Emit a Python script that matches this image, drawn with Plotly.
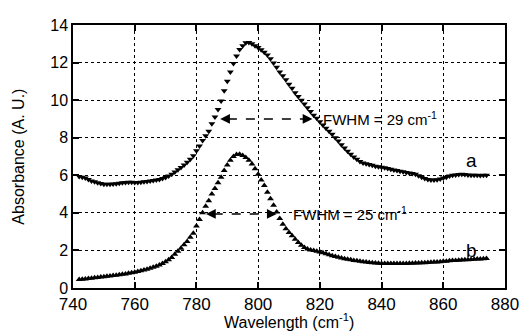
import plotly.graph_objects as go

wavelength = list(range(742, 875))

absorb_a = [
    5.93, 5.9, 5.85, 5.78, 5.7, 5.65, 5.6, 5.56, 5.52, 5.52,   # 742-751
    5.52, 5.53, 5.55, 5.58, 5.6, 5.62, 5.63, 5.63, 5.62, 5.62, # 752-761
    5.63, 5.65, 5.67, 5.7, 5.72, 5.75, 5.78, 5.83, 5.88, 5.96, # 762-771
    6.05, 6.17, 6.3, 6.42, 6.55, 6.7, 6.85, 7.04, 7.3, 7.56,   # 772-781
    7.85, 8.1, 8.35, 8.75, 9.1, 9.5, 9.95, 10.5, 11.0, 11.5,   # 782-791
    11.95, 12.35, 12.7, 12.9, 13.05, 13.07, 13.0, 12.9, 12.8, 12.68, # 792-801
    12.55, 12.4, 12.2, 11.98, 11.75, 11.5, 11.3, 11.08, 10.85, 10.63, # 802-811
    10.4, 10.2, 10.0, 9.8, 9.6, 9.4, 9.2, 9.03, 8.85, 8.68,    # 812-821
    8.5, 8.35, 8.18, 8.0, 7.82, 7.62, 7.45, 7.28, 7.12, 6.98,  # 822-831
    6.85, 6.73, 6.66, 6.62, 6.58, 6.53, 6.48, 6.45, 6.43, 6.4, # 832-841
    6.36, 6.32, 6.28, 6.25, 6.22, 6.19, 6.15, 6.12, 6.1, 6.05, # 842-851
    5.98, 5.9, 5.83, 5.78, 5.75, 5.75, 5.76, 5.8, 5.85, 5.9,   # 852-861
    5.96, 6.0, 6.02, 6.04, 6.05, 6.04, 6.02, 6.0, 6.0, 6.0,    # 862-871
    5.99, 6.0, 6.0,                                            # 872-874
]

absorb_b = [
    0.45, 0.46, 0.48, 0.5, 0.52, 0.54, 0.56, 0.58, 0.6, 0.62,  # 742-751
    0.64, 0.66, 0.68, 0.7, 0.73, 0.75, 0.78, 0.81, 0.84, 0.88, # 752-761
    0.92, 0.96, 1.0, 1.05, 1.1, 1.16, 1.22, 1.3, 1.4, 1.5,     # 762-771
    1.63, 1.79, 1.95, 2.12, 2.3, 2.48, 2.7, 2.92, 3.3, 3.65,   # 772-781
    4.0, 4.35, 4.65, 5.0, 5.3, 5.6, 5.9, 6.25, 6.55, 6.8,      # 782-791
    7.0, 7.1, 7.12, 7.05, 6.95, 6.8, 6.6, 6.35, 6.05, 5.75,    # 792-801
    5.45, 5.1, 4.75, 4.4, 4.05, 3.7, 3.4, 3.15, 2.95, 2.78,    # 802-811
    2.6, 2.42, 2.27, 2.15, 2.07, 2.02, 1.99, 1.96, 1.92, 1.87, # 812-821
    1.82, 1.77, 1.72, 1.68, 1.64, 1.6, 1.56, 1.53, 1.5, 1.47,  # 822-831
    1.45, 1.42, 1.4, 1.38, 1.36, 1.34, 1.33, 1.32, 1.31, 1.3,  # 832-841
    1.3, 1.3, 1.3, 1.3, 1.3, 1.31, 1.31, 1.32, 1.32, 1.33,     # 842-851
    1.33, 1.34, 1.35, 1.36, 1.37, 1.38, 1.39, 1.4, 1.42, 1.43, # 852-861
    1.45, 1.46, 1.47, 1.48, 1.49, 1.5, 1.51, 1.52, 1.53, 1.54, # 862-871
    1.55, 1.56, 1.57,                                          # 872-874
]

x_ticks = [740, 760, 780, 800, 820, 840, 860, 880]
y_ticks = [0, 2, 4, 6, 8, 10, 12, 14]

fwhm_a = dict(x0=787.7, x1=817.6, y=9.0, text="FWHM = 29 cm<sup>-1</sup>", tx=820.3)
fwhm_b = dict(x0=783.1, x1=806.0, y=3.94, text="FWHM = 25 cm<sup>-1</sup>", tx=810.7)

FONT = "Liberation Sans, Arial, Helvetica, sans-serif"

fig = go.Figure()
fig.add_trace(go.Scatter(x=wavelength, y=absorb_a, mode="markers",
                         marker=dict(symbol="triangle-down", size=6, color="black"),
                         showlegend=False))
fig.add_trace(go.Scatter(x=wavelength, y=absorb_b, mode="markers",
                         marker=dict(symbol="triangle-up", size=6, color="black"),
                         showlegend=False))

for f in (fwhm_a, fwhm_b):
    fig.add_shape(type="line", x0=f["x0"] + 2.5, x1=f["x1"] - 2.5, y0=f["y"], y1=f["y"],
                  xref="x", yref="y", line=dict(color="black", width=1.5, dash="dash"))
    for tip, tail in ((f["x0"], f["x0"] + 3), (f["x1"], f["x1"] - 3)):
        fig.add_annotation(x=tip, y=f["y"], ax=tail, ay=f["y"], axref="x", ayref="y",
                           xref="x", yref="y", text="", showarrow=True,
                           arrowhead=2, arrowsize=1.3, arrowwidth=1.5, arrowcolor="black")
    fig.add_annotation(x=f["tx"], y=f["y"], text=f["text"], showarrow=False,
                       xanchor="left", yanchor="middle",
                       font=dict(family=FONT, size=15, color="black"))

fig.add_annotation(x=869, y=6.8, text="a", showarrow=False, xanchor="center",
                   yanchor="middle", font=dict(family=FONT, size=19, color="black"))
fig.add_annotation(x=869, y=2.0, text="b", showarrow=False, xanchor="center",
                   yanchor="middle", font=dict(family=FONT, size=19, color="black"))

# axis titles
fig.add_annotation(x=0.5, y=-0.125, xref="paper", yref="paper", text="Wavelength (cm<sup>-1</sup>)",
                   showarrow=False, xanchor="center", yanchor="middle",
                   font=dict(family=FONT, size=16, color="black"))
fig.add_annotation(x=-0.127, y=0.5, xref="paper", yref="paper", text="Absorbance (A. U.)",
                   showarrow=False, xanchor="center", yanchor="middle", textangle=-90,
                   font=dict(family=FONT, size=16, color="black"))

axis_common = dict(
    showline=True, linecolor="black", linewidth=1.5, mirror="ticks",
    ticks="inside", ticklen=6, tickwidth=1.5, tickcolor="black",
    showgrid=True, gridcolor="black", gridwidth=1, griddash="dot",
    zeroline=False,
)

fig.update_xaxes(range=[740, 880], tickvals=x_ticks, ticktext=[str(v) for v in x_ticks],
                 tickfont=dict(family=FONT, size=17, color="black"),
                 **axis_common)
fig.update_yaxes(range=[0, 14], tickvals=y_ticks, ticktext=[str(v) for v in y_ticks],
                 tickfont=dict(family=FONT, size=16, color="black"),
                 **axis_common)

# page body has an 8px default margin; compensate so the plot lands in place
fig.update_layout(
    width=520, height=328,
    margin=dict(l=65, r=15, t=9, b=48),
    paper_bgcolor="white", plot_bgcolor="white",
    font=dict(family=FONT, color="black"),
)

fig.write_html("out.html")
